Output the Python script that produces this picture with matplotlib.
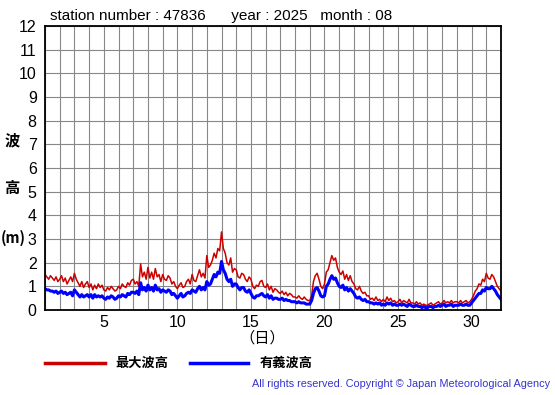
import numpy as np
import matplotlib.pyplot as plt

plt.rcParams['font.family'] = ['Liberation Sans', 'DejaVu Sans']
cjk = ['Noto Sans CJK JP', 'DejaVu Sans']

# 3-hourly readings (m), Aug 1 00h .. Sep 1 00h, one row per day
max_wave = [
    1.5, 1.4, 1.3, 1.45, 1.35, 1.25, 1.4, 1.2,
    1.3, 1.45, 1.2, 1.35, 1.1, 1.25, 1.4, 1.2,
    1.55, 1.3, 1.15, 1.0, 1.2, 0.95, 1.1, 1.2,
    0.95, 1.1, 0.85, 1.05, 0.9, 1.1, 0.95, 1.05,
    0.85, 0.8, 0.95, 0.85, 1.0, 0.9, 0.8, 0.85,
    1.0, 0.9, 1.1, 1.0, 0.95, 1.15, 1.05, 1.25,
    1.3, 1.1, 1.2, 1.0, 1.95, 1.4, 1.6, 1.3,
    1.8, 1.35, 1.6, 1.3, 1.75, 1.4, 1.5, 1.2,
    1.5, 1.3, 1.25, 1.45, 1.35, 1.1, 1.2, 1.0,
    0.9, 1.05, 1.15, 0.95, 1.0, 1.2, 1.3, 1.1,
    1.5, 1.25, 1.2, 1.45, 1.7, 1.4, 1.55, 1.35,
    2.3, 1.8, 1.9, 2.1, 2.4, 2.2, 2.6, 2.5,
    3.3, 2.6, 2.4, 2.0, 1.9, 2.2, 1.6, 1.75,
    1.7, 1.4, 1.35, 1.55, 1.5, 1.3, 1.2, 1.4,
    1.3, 1.0, 0.9, 1.05, 1.0, 1.2, 1.25, 1.0,
    0.95, 1.1, 0.85, 1.0, 0.75, 0.9, 0.85, 0.75,
    0.7, 0.8, 0.65, 0.75, 0.6, 0.7, 0.65, 0.55,
    0.55, 0.5, 0.6, 0.5, 0.45, 0.55, 0.45, 0.4,
    0.4, 0.6, 1.2, 1.45, 1.55, 1.3, 1.0, 0.9,
    1.1, 1.6, 1.7, 2.0, 2.3, 2.1, 2.2, 1.8,
    1.6, 1.5, 1.65, 1.3, 1.5, 1.25, 1.45, 1.2,
    1.1, 0.9, 0.85, 1.0, 0.8, 0.7, 0.75, 0.6,
    0.6, 0.45, 0.5, 0.4, 0.55, 0.4, 0.45, 0.35,
    0.45, 0.35, 0.55, 0.4, 0.5, 0.35, 0.4, 0.3,
    0.35, 0.45, 0.3, 0.4, 0.35, 0.3, 0.45, 0.3,
    0.3, 0.25, 0.35, 0.25, 0.3, 0.2, 0.25, 0.2,
    0.2, 0.25, 0.3, 0.2, 0.25, 0.3, 0.35, 0.25,
    0.3, 0.4, 0.3, 0.35, 0.3, 0.4, 0.3, 0.35,
    0.35, 0.3, 0.4, 0.3, 0.35, 0.4, 0.3, 0.35,
    0.45, 0.6, 0.8, 0.9, 1.1, 1.05, 1.3, 1.2,
    1.55, 1.35, 1.3, 1.5, 1.4, 1.2, 1.0, 0.9,
    0.8,
]
sig_wave = [
    0.9, 0.85, 0.85, 0.8, 0.8, 0.75, 0.8, 0.7,
    0.75, 0.8, 0.7, 0.75, 0.65, 0.7, 0.75, 0.6,
    0.85, 0.75, 0.65, 0.55, 0.65, 0.55, 0.6, 0.65,
    0.55, 0.65, 0.5, 0.65, 0.55, 0.6, 0.55, 0.6,
    0.5, 0.45, 0.55, 0.5, 0.6, 0.55, 0.45, 0.5,
    0.6, 0.55, 0.65, 0.6, 0.55, 0.7, 0.65, 0.75,
    0.75, 0.7, 0.8, 0.65, 1.15, 0.85, 0.95, 0.8,
    1.05, 0.85, 0.95, 0.8, 1.05, 0.85, 0.9, 0.75,
    0.85, 0.8, 0.75, 0.85, 0.8, 0.65, 0.7, 0.6,
    0.5, 0.6, 0.7, 0.55, 0.6, 0.7, 0.75, 0.7,
    0.85, 0.8, 0.75, 0.9, 1.0, 0.85, 0.95, 0.85,
    1.2, 1.05, 1.1, 1.3, 1.5, 1.4, 1.6, 1.55,
    2.05, 1.7, 1.55, 1.3, 1.2, 1.3, 1.0, 1.1,
    1.1, 0.95, 0.85, 0.95, 0.95, 0.8, 0.75, 0.85,
    0.7, 0.55, 0.5, 0.6, 0.6, 0.65, 0.7, 0.6,
    0.55, 0.65, 0.5, 0.6, 0.45, 0.5, 0.5, 0.45,
    0.45, 0.5, 0.4, 0.45, 0.4, 0.4, 0.35, 0.35,
    0.35, 0.3, 0.35, 0.3, 0.3, 0.3, 0.25, 0.25,
    0.25, 0.4, 0.7, 0.9, 0.95, 0.8, 0.6, 0.55,
    0.6, 1.0, 1.1, 1.3, 1.45, 1.3, 1.35, 1.15,
    1.0, 0.95, 1.05, 0.85, 0.95, 0.8, 0.9, 0.8,
    0.7, 0.55, 0.5, 0.55, 0.45, 0.4, 0.45, 0.35,
    0.35, 0.3, 0.3, 0.25, 0.3, 0.25, 0.3, 0.2,
    0.25, 0.2, 0.3, 0.25, 0.3, 0.2, 0.25, 0.2,
    0.2, 0.25, 0.2, 0.25, 0.2, 0.15, 0.25, 0.2,
    0.15, 0.15, 0.2, 0.15, 0.15, 0.1, 0.15, 0.1,
    0.1, 0.15, 0.15, 0.1, 0.15, 0.15, 0.2, 0.15,
    0.2, 0.25, 0.15, 0.2, 0.2, 0.25, 0.15, 0.2,
    0.2, 0.2, 0.25, 0.2, 0.2, 0.25, 0.2, 0.2,
    0.3, 0.4, 0.5, 0.6, 0.7, 0.7, 0.85, 0.8,
    0.95, 0.9, 0.9, 1.0, 0.9, 0.8, 0.65, 0.55,
    0.45,
]
days = 1 + np.arange(len(max_wave)) / 8

fig = plt.figure(figsize=(5.55, 3.95), dpi=100)
ax = fig.add_axes([45 / 555, 85 / 395, 456 / 555, 284 / 395])

ax.plot(days, max_wave, color='#cc0000', lw=1.1)
ax.plot(days, sig_wave, color='#0000ff', lw=2.2)

ax.set_xlim(1, 32)
ax.set_ylim(0, 12)
ax.set_xticks(range(1, 33), minor=True)
ax.set_xticks([5, 10, 15, 20, 25, 30])
ax.set_yticks(range(0, 13))
ax.grid(True, which='both', color='#888888', lw=0.8)
ax.tick_params(which='both', length=0, labelsize=11.5)
ax.tick_params(axis='y', pad=6)
for s in ax.spines.values():
    s.set_linewidth(1.3)

fig.text(50 / 555, 1 - 16 / 395, 'station number : 47836      year : 2025   month : 08',
         fontsize=11, va='center', ha='left')

fig.text(12 / 555, 1 - 140 / 395, '波', family=cjk, fontsize=11, weight='bold', ha='center', va='center')
fig.text(12 / 555, 1 - 188 / 395, '高', family=cjk, fontsize=11, weight='bold', ha='center', va='center')
fig.text(13 / 555, 1 - 238 / 395, '(m)', family=cjk, fontsize=10.5, weight='bold', ha='center', va='center')
fig.text(262 / 555, 1 - 338 / 395, '（日）', family=cjk, fontsize=11, ha='center', va='center')

# legend
fig.lines.append(plt.Line2D([45 / 555, 105 / 555], [1 - 363 / 395] * 2, color='#cc0000', lw=2.5,
                            transform=fig.transFigure))
fig.text(115 / 555, 1 - 363 / 395, '最大波高', family=cjk, fontsize=9.5, weight='bold', va='center')
fig.lines.append(plt.Line2D([190 / 555, 248 / 555], [1 - 363 / 395] * 2, color='#0000ff', lw=2.5,
                            transform=fig.transFigure))
fig.text(260 / 555, 1 - 363 / 395, '有義波高', family=cjk, fontsize=9.5, weight='bold', va='center')

fig.text(550 / 555, 1 - 384 / 395, 'All rights reserved. Copyright \u00a9 Japan Meteorological Agency',
         fontsize=7.8, color='#3333cc', ha='right', va='center')

fig.savefig('out.png', dpi=100)
